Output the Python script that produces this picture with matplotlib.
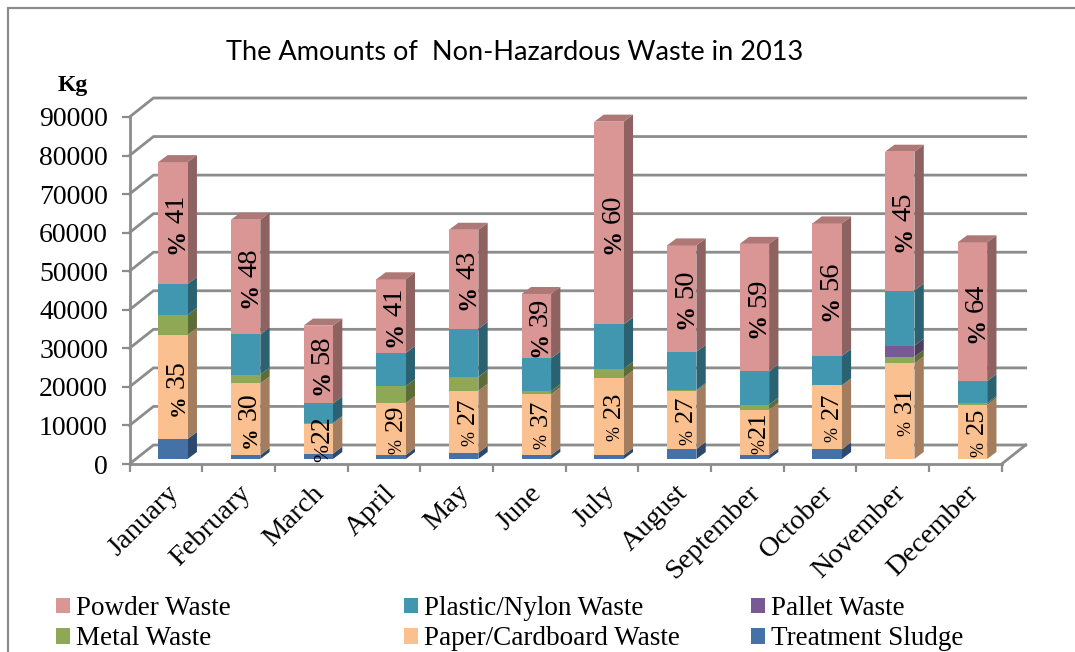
import matplotlib
matplotlib.use('Agg')
import matplotlib.pyplot as plt
from matplotlib.colors import to_rgb
from matplotlib.patches import Patch, Polygon, Rectangle

months = ['January', 'February', 'March', 'April', 'May', 'June', 'July',
          'August', 'September', 'October', 'November', 'December']

# Quantities in kg, per month
powder = [31600, 29760, 20200, 19150, 25700, 16700, 52600, 27600, 33100, 34400, 36000, 36000]
plastic = [8000, 10400, 5000, 8560, 12450, 8500, 11500, 9900, 8600, 7600, 14300, 5700]
pallet = [0, 0, 0, 0, 0, 0, 0, 0, 0, 0, 2900, 0]
metal = [5200, 2300, 300, 4400, 3600, 800, 2300, 300, 1300, 0, 1700, 500]
paper = [27000, 18600, 7700, 13500, 16100, 15800, 20100, 15000, 11800, 16600, 24800, 14000]
sludge = [5200, 1000, 1400, 1000, 1600, 1000, 1000, 2600, 1000, 2500, 0, 0]

powder_pct = [41, 48, 58, 41, 43, 39, 60, 50, 59, 56, 45, 64]
paper_pct = [35, 30, 22, 29, 27, 37, 23, 27, 21, 27, 31, 25]

# Stacking order, bottom to top
series = [
    ('Treatment Sludge', sludge, '#4471A6'),
    ('Paper/Cardboard Waste', paper, '#FAC090'),
    ('Metal Waste', metal, '#8FA856'),
    ('Pallet Waste', pallet, '#775A94'),
    ('Plastic/Nylon Waste', plastic, '#4197B0'),
    ('Powder Waste', powder, '#D99694'),
]

W, H = 1075, 652
GRID = '#8C8C8C'
SERIF = 'Liberation Serif'
PX = 0.72  # points per pixel at dpi 100

fig = plt.figure(figsize=(W / 100, H / 100), dpi=100)
ax = fig.add_axes([129.5 / W, 1 - 464 / H, 872.2 / W, 347 / H])
ax.set_xlim(0, 12)
ax.set_ylim(0, 90000)

# Fake 3D: depth expressed in axis units
wall_dx, wall_dy = 0.33, 4930
bar_off_x, bar_off_y = 0.396, 1300
bar_w = 0.404
side_dx, side_dy = 0.128, 1815
label_dx = 0.345


def pct_label(x, y, value, num_size, sign_size, bold_sign=False, gap=8):
    # rotated "% nn": sign and number are separate texts with their own sizes
    num_len = num_size / PX
    sign_len = 0.833 * sign_size / PX
    total = num_len + gap + sign_len
    num_shift = total / 2 - num_len / 2
    sign_shift = -(total / 2 - sign_len / 2)
    ax.annotate(str(value), (x, y), xytext=(0, num_shift * PX), textcoords='offset points',
                rotation=90, rotation_mode='anchor', ha='center', va='baseline',
                family=SERIF, fontsize=num_size, zorder=5, annotation_clip=False)
    ax.annotate('%', (x, y), xytext=(0, sign_shift * PX), textcoords='offset points',
                rotation=90, rotation_mode='anchor', ha='center', va='baseline',
                family=SERIF, fontsize=sign_size, zorder=5, annotation_clip=False,
                fontweight='bold' if bold_sign else 'normal')


# chart frame, it runs past the right and bottom edges
fig.add_artist(Rectangle((7.5 / W, -0.05), 1.2, 1.05 - 7.5 / H, fill=False,
                         edgecolor=GRID, linewidth=1.6, transform=fig.transFigure))

# back wall and side wall gridlines
for v in range(0, 90001, 10000):
    ax.plot([0, wall_dx, 12 + wall_dx], [v, v + wall_dy, v + wall_dy], color=GRID,
            lw=2, clip_on=False, zorder=1, solid_joinstyle='miter')
ax.plot([12, 12 + wall_dx], [0, wall_dy], color=GRID, lw=2, clip_on=False, zorder=1)

for i in range(len(months)):
    x0 = i + bar_off_x
    bottom = bar_off_y
    for name, vals, col in series:
        v = vals[i]
        if v == 0:
            continue
        rgb = to_rgb(col)
        side = tuple(c * 0.65 for c in rgb)
        ax.add_patch(Polygon([(x0 + bar_w, bottom), (x0 + bar_w + side_dx, bottom + side_dy),
                              (x0 + bar_w + side_dx, bottom + v + side_dy), (x0 + bar_w, bottom + v)],
                             facecolor=side, edgecolor='none', clip_on=False, zorder=3))
        ax.add_patch(Rectangle((x0, bottom), bar_w, v, facecolor=col, edgecolor='none',
                               clip_on=False, zorder=3))
        bottom += v
    # top of the stack
    top = tuple(c * 0.8 for c in to_rgb(series[-1][2]))
    ax.add_patch(Polygon([(x0, bottom), (x0 + side_dx, bottom + side_dy),
                          (x0 + bar_w + side_dx, bottom + side_dy), (x0 + bar_w, bottom)],
                         facecolor=top, edgecolor='none', clip_on=False, zorder=3))

    # percentage labels on the two biggest segments
    xt = x0 + label_dx
    base = bar_off_y + sludge[i]
    big = i < 3
    pct_label(xt, base + paper[i] / 2, paper_pct[i], 20 if big else 19, 15.5 if big else 13,
              bold_sign=i < 2, gap=1 if i in (2, 8) else 8)
    below = base + paper[i] + metal[i] + pallet[i] + plastic[i]
    pct_label(xt, below + powder[i] / 2, powder_pct[i], 20.5, 18, bold_sign=True)

for s in ['top', 'right']:
    ax.spines[s].set_visible(False)
for s in ['left', 'bottom']:
    ax.spines[s].set_color(GRID)
    ax.spines[s].set_linewidth(2)

ax.set_yticks(range(0, 90001, 10000))
ax.set_xticks(range(13))
ax.set_xticklabels([])
ax.set_xticks([i + 0.5 for i in range(12)], minor=True)
ax.set_xticklabels(months, minor=True, rotation=45, ha='right', rotation_mode='anchor',
                   family=SERIF, fontsize=20.5)
ax.tick_params(axis='x', which='major', length=5.5, width=1.6, color=GRID)
ax.tick_params(axis='x', which='minor', length=0, pad=12)
ax.tick_params(axis='y', length=5.5, width=1.6, color=GRID, pad=10)
for lab in ax.get_yticklabels():
    lab.set_family(SERIF)
    lab.set_fontsize(20)

fig.text(515 / W, 1 - 53 / H, 'The Amounts of  Non-Hazardous Waste in 2013', family='Lato',
         fontsize=19.5, ha='center', va='center', color='black')
fig.text(73 / W, 1 - 85 / H, 'Kg', family=SERIF, fontweight='bold', fontsize=17,
         ha='center', va='center')

# legend, one block per column
by_name = {name: col for name, vals, col in series}
columns = [(56, ['Powder Waste', 'Metal Waste']),
           (404, ['Plastic/Nylon Waste', 'Paper/Cardboard Waste']),
           (751, ['Pallet Waste', 'Treatment Sludge'])]
for x, names in columns:
    handles = [Patch(facecolor=by_name[n], edgecolor='none', label=n) for n in names]
    fig.legend(handles=handles, loc='upper left', bbox_to_anchor=(x / W, 1 - 596 / H),
               frameon=False, prop={'family': SERIF, 'size': 19.5}, handlelength=0.52,
               handleheight=0.52, handletextpad=0.22, labelspacing=0.2, borderpad=0,
               borderaxespad=0)

fig.savefig('out.png', dpi=100)
